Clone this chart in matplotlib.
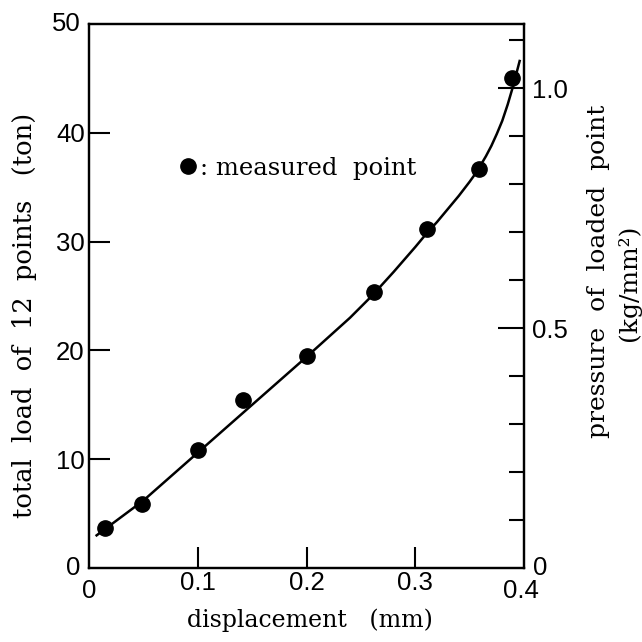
import matplotlib
matplotlib.use('Agg')
import matplotlib.pyplot as plt
from matplotlib.ticker import FixedLocator

# measured points (displacement mm, total load ton)
disp_pts = [0.015, 0.049, 0.100, 0.142, 0.200, 0.262, 0.311, 0.359, 0.389]
load_pts = [3.7, 5.9, 10.8, 15.4, 19.5, 25.4, 31.2, 36.7, 45.0]

# hand drawn fitted curve
disp_curve = [0.007, 0.05, 0.10, 0.15, 0.20, 0.22, 0.24, 0.26, 0.28, 0.30, 0.31,
              0.32, 0.33, 0.34, 0.35, 0.355, 0.36, 0.365, 0.37, 0.375, 0.38,
              0.385, 0.39, 0.396]
load_curve = [3.0, 6.2, 10.6, 15.0, 19.4, 21.2, 23.0, 25.0, 27.2, 29.5, 30.7,
              31.8, 33.0, 34.2, 35.5, 36.2, 37.0, 37.85, 38.8, 39.9, 41.1,
              42.6, 44.3, 46.6]

left_ticks = [10, 20, 30, 40]
left_labels = ['10', '20', '30', '40']
x_ticks = [0.1, 0.2, 0.3]
x_labels = ['0.1', '0.2', '0.3']
right_major = [0.5, 1.0]
right_labels = ['0.5', '1.0']
right_minor = [0.1, 0.2, 0.3, 0.4, 0.6, 0.7, 0.8, 0.9, 1.1]
ton_per_press = 44.1   # 1.0 kg/mm2 <-> 44.1 ton

serif = 'DejaVu Serif'
sans = 'Liberation Sans'
tfs = 18.5

fig = plt.figure(figsize=(6.42, 6.42), dpi=100)
ax = fig.add_axes([89/642, 74/642, 435/642, 544/642])

ax.plot(disp_curve, load_curve, color='black', lw=1.8, zorder=2)
pts, = ax.plot(disp_pts, load_pts, 'o', color='black', ms=11, zorder=3)

ax.set_xlim(0, 0.4)
ax.set_ylim(0, 50)
ax.xaxis.set_major_locator(FixedLocator(x_ticks))
ax.yaxis.set_major_locator(FixedLocator(left_ticks))
ax.tick_params(axis='both', direction='in', length=15, width=1.5, labelsize=tfs)
ax.tick_params(axis='x', pad=2)
ax.tick_params(axis='y', pad=3)
ax.set_xticklabels(x_labels, fontfamily=sans)
ax.set_yticklabels(left_labels, fontfamily=sans)
for s in ax.spines.values():
    s.set_linewidth(1.6)

# corner labels
ax.text(-0.008, 0, '0', ha='right', va='center', fontsize=tfs, family=sans)
ax.text(-0.008, 50, '50', ha='right', va='center', fontsize=tfs, family=sans)
ax.text(0, -1.0, '0', ha='center', va='top', fontsize=tfs, family=sans)
ax.text(0.397, -1.0, '0.4', ha='center', va='top', fontsize=tfs, family=sans)

ax2 = ax.twinx()
ax2.set_ylim(0, 50 / ton_per_press)
ax2.yaxis.set_major_locator(FixedLocator(right_major))
ax2.yaxis.set_minor_locator(FixedLocator(right_minor))
ax2.tick_params(axis='y', which='major', direction='in', length=19, width=1.5,
                labelsize=tfs, pad=6)
ax2.tick_params(axis='y', which='minor', direction='in', length=11, width=1.5)
ax2.set_yticklabels(right_labels, fontfamily=sans)
ax2.text(1.021, 0.0, '0', transform=ax2.transAxes, ha='left', va='center',
         fontsize=tfs, family=sans)
for s in ax2.spines.values():
    s.set_linewidth(1.6)

ax.legend([pts], [': measured  point'], loc='center left', frameon=False,
          bbox_to_anchor=(0.150, 0.735), handletextpad=0.0, handlelength=1.0,
          numpoints=1, prop={'family': serif, 'size': 17.5})

fig.text(0.483, 0.034, 'displacement   (mm)', ha='center', va='center',
         fontsize=17, family=serif)
fig.text(0.038, 0.508, 'total  load  of  12  points   (ton)', rotation=90,
         ha='center', va='center', fontsize=18.5, family=serif)
fig.text(0.932, 0.578, 'pressure  of  loaded  point', rotation=90,
         ha='center', va='center', fontsize=18, family=serif)
fig.text(0.98, 0.56, '(kg/mm²)', rotation=90,
         ha='center', va='center', fontsize=18, family=serif)

fig.savefig('out.png', dpi=100)
